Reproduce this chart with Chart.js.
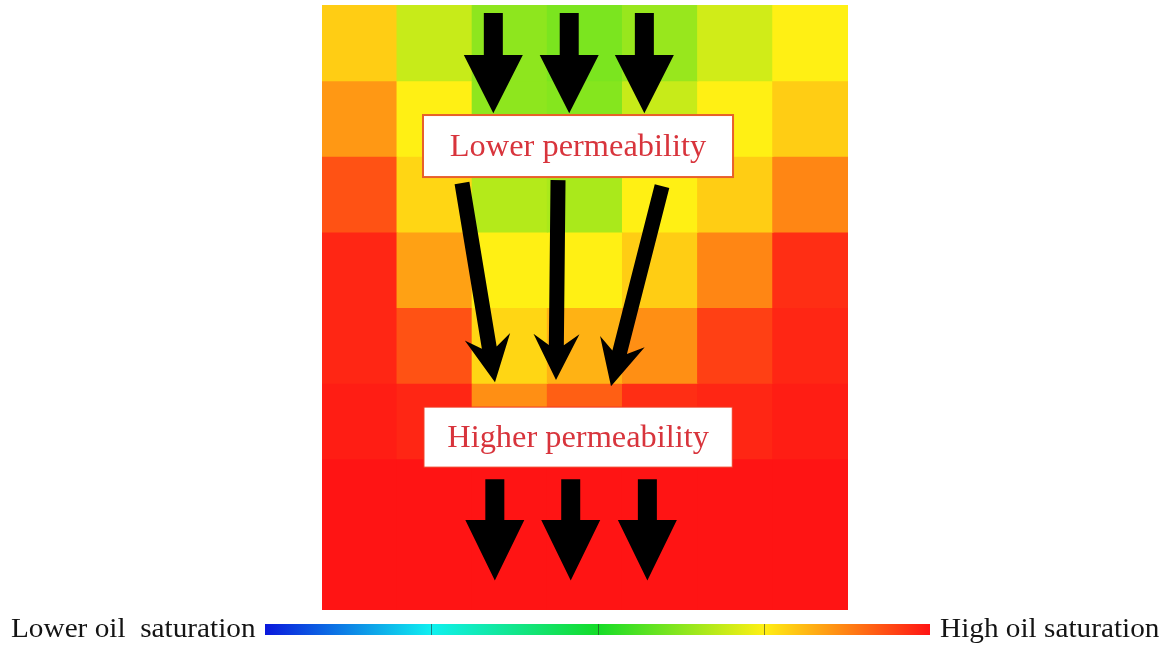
<!DOCTYPE html>
<html>
<head>
<meta charset="utf-8">
<title>Oil saturation and permeability</title>
<script src="https://cdn.jsdelivr.net/npm/chart.js@4/dist/chart.umd.min.js"></script>
<style>
  html, body { margin: 0; padding: 0; background: #ffffff; overflow: hidden; }
  #wrap { width: 1169px; height: 648px; position: relative; }
</style>
</head>
<body>
<div id="wrap"><canvas id="chart" width="1169" height="648"></canvas></div>
<script>
// Grid blocks, left to right
const columns = ['C1', 'C2', 'C3', 'C4', 'C5', 'C6', 'C7'];

// Oil saturation (0 = lowest, 1 = highest) of each block, one array per layer from the top
const layer1 = [0.79, 0.69, 0.63, 0.61, 0.64, 0.70, 0.75];
const layer2 = [0.85, 0.75, 0.63, 0.62, 0.69, 0.75, 0.79];
const layer3 = [0.93, 0.78, 0.67, 0.66, 0.75, 0.79, 0.87];
const layer4 = [0.98, 0.84, 0.75, 0.75, 0.79, 0.87, 0.97];
const layer5 = [0.98, 0.93, 0.78, 0.82, 0.86, 0.95, 0.98];
const layer6 = [0.99, 0.98, 0.86, 0.915, 0.97, 0.98, 0.99];
const layer7 = [1.00, 1.00, 1.00, 1.00, 1.00, 1.00, 1.00];
const layer8 = [1.00, 1.00, 1.00, 1.00, 1.00, 1.00, 1.00];
const layers = [layer1, layer2, layer3, layer4, layer5, layer6, layer7, layer8];

// Text
const lowZoneLabel = 'Lower permeability';
const highZoneLabel = 'Higher permeability';
const scaleLowLabel = 'Lower oil  saturation';
const scaleHighLabel = 'High oil saturation';

// Colour scale: blue -> cyan -> green -> yellow -> red
const colorStops = [0, 0.25, 0.5, 0.75, 1];
const stopColors = [[10, 24, 220], [16, 240, 240], [20, 220, 40], [255, 240, 20], [255, 20, 20]];

function saturationColor(v) {
  const t = Math.max(0, Math.min(1, v));
  let i = 0;
  while (i < colorStops.length - 2 && t > colorStops[i + 1]) i++;
  const f = (t - colorStops[i]) / (colorStops[i + 1] - colorStops[i]);
  const a = stopColors[i], b = stopColors[i + 1];
  const c = a.map((x, k) => Math.round(x + (b[k] - x) * f));
  return 'rgb(' + c.join(',') + ')';
}

// Flow arrows and zone boxes, placed in grid units (column centre index, layer depth from top)
const thickArrowsTop = { cols: [1.78, 2.79, 3.79], top: 0.106, headBase: 0.661, tip: 1.43 };
const thickArrowsBottom = { cols: [1.80, 2.81, 3.83], top: 6.27, headBase: 6.81, tip: 7.61 };
const slantArrows = [
  { from: [1.363, 2.354], to: [1.802, 4.987] },
  { from: [2.641, 2.315], to: [2.614, 4.960] },
  { from: [4.025, 2.394], to: [3.346, 5.040] }
];
const zoneBoxes = [
  { text: lowZoneLabel, c0: 0.844, c1: 4.97, r0: 1.455, r1: 2.275, border: '#e8602a', borderW: 2 },
  { text: highZoneLabel, c0: 0.857, c1: 4.96, r0: 5.317, r1: 6.111, border: '#f03a22', borderW: 1 }
];

const SERIF = '"Liberation Serif", "Times New Roman", "DejaVu Serif", serif';
const STRETCH = 1.045;

function stretchedText(ctx, text, x, y, align) {
  ctx.save();
  const w = ctx.measureText(text).width * STRETCH;
  let left = x;
  if (align === 'center') left = x - w / 2;
  else if (align === 'right') left = x - w;
  ctx.translate(left, y);
  ctx.scale(STRETCH, 1);
  ctx.textAlign = 'left';
  ctx.fillText(text, 0, 0);
  ctx.restore();
}

function blockArrow(ctx, cx, yTop, yBase, yTip, shaftW, headW) {
  ctx.beginPath();
  ctx.moveTo(cx - shaftW / 2, yTop);
  ctx.lineTo(cx + shaftW / 2, yTop);
  ctx.lineTo(cx + shaftW / 2, yBase);
  ctx.lineTo(cx + headW / 2, yBase);
  ctx.lineTo(cx, yTip);
  ctx.lineTo(cx - headW / 2, yBase);
  ctx.lineTo(cx - shaftW / 2, yBase);
  ctx.closePath();
  ctx.fill();
}

function barbedArrow(ctx, x0, y0, x1, y1, shaftW, headLen, headW, notch) {
  const dx = x1 - x0, dy = y1 - y0;
  const len = Math.hypot(dx, dy);
  const ux = dx / len, uy = dy / len;
  const nx = -uy, ny = ux;
  const jx = x1 - ux * (headLen - notch), jy = y1 - uy * (headLen - notch);
  const bx = x1 - ux * headLen, by = y1 - uy * headLen;
  ctx.beginPath();
  ctx.moveTo(x0 + nx * shaftW / 2, y0 + ny * shaftW / 2);
  ctx.lineTo(jx + nx * shaftW / 2, jy + ny * shaftW / 2);
  ctx.lineTo(bx + nx * headW / 2, by + ny * headW / 2);
  ctx.lineTo(x1, y1);
  ctx.lineTo(bx - nx * headW / 2, by - ny * headW / 2);
  ctx.lineTo(jx - nx * shaftW / 2, jy - ny * shaftW / 2);
  ctx.lineTo(x0 - nx * shaftW / 2, y0 - ny * shaftW / 2);
  ctx.closePath();
  ctx.fill();
}

const flowOverlay = {
  id: 'flowOverlay',
  afterDatasetsDraw(chart) {
    const ctx = chart.ctx;
    const xs = chart.scales.x, ys = chart.scales.y;
    const px = c => xs.getPixelForValue(c);
    const py = r => ys.getPixelForValue(r);
    ctx.save();
    ctx.fillStyle = '#000000';
    [thickArrowsTop, thickArrowsBottom].forEach(g => {
      g.cols.forEach(c => blockArrow(ctx, px(c), py(g.top), py(g.headBase), py(g.tip), 19, 59));
    });
    slantArrows.forEach(a => {
      barbedArrow(ctx, px(a.from[0]), py(a.from[1]), px(a.to[0]), py(a.to[1]), 15, 46, 46, 11);
    });
    zoneBoxes.forEach(b => {
      const x0 = px(b.c0), x1 = px(b.c1), y0 = py(b.r0), y1 = py(b.r1);
      ctx.fillStyle = '#ffffff';
      ctx.fillRect(x0, y0, x1 - x0, y1 - y0);
      ctx.strokeStyle = b.border;
      ctx.lineWidth = b.borderW;
      ctx.strokeRect(x0, y0, x1 - x0, y1 - y0);
      ctx.fillStyle = '#d8343c';
      ctx.font = '31px ' + SERIF;
      ctx.textBaseline = 'alphabetic';
      stretchedText(ctx, b.text, (x0 + x1) / 2, (y0 + y1) / 2 + 10, 'center');
    });
    ctx.restore();
  },
  afterDraw(chart) {
    const ctx = chart.ctx;
    const barX0 = 265, barX1 = 930, barY = 624, barH = 11;
    ctx.save();
    const grad = ctx.createLinearGradient(barX0, 0, barX1, 0);
    colorStops.forEach((s, i) => grad.addColorStop(s, saturationColor(s)));
    ctx.fillStyle = grad;
    ctx.fillRect(barX0, barY, barX1 - barX0, barH);
    ctx.strokeStyle = 'rgba(40,40,40,0.55)';
    ctx.lineWidth = 1;
    [0.25, 0.5, 0.75].forEach(s => {
      const x = Math.round(barX0 + (barX1 - barX0) * s) + 0.5;
      ctx.beginPath();
      ctx.moveTo(x, barY);
      ctx.lineTo(x, barY + barH);
      ctx.stroke();
    });
    ctx.fillStyle = '#141414';
    ctx.font = '28px ' + SERIF;
    ctx.textBaseline = 'alphabetic';
    stretchedText(ctx, scaleLowLabel, 11, 637, 'left');
    stretchedText(ctx, scaleHighLabel, 940, 637, 'left');
    ctx.restore();
  }
};

const datasets = layers.map((vals, r) => ({
  label: 'Layer ' + (r + 1),
  data: vals.map(() => 1),
  backgroundColor: vals.map(saturationColor),
  borderWidth: 0,
  barPercentage: 1,
  categoryPercentage: 1,
  inflateAmount: 0.6
}));

new Chart(document.getElementById('chart'), {
  type: 'bar',
  data: { labels: columns, datasets },
  options: {
    responsive: false,
    animation: false,
    devicePixelRatio: 1,
    layout: { padding: { left: 322, right: 321, top: 5, bottom: 38 } },
    scales: {
      x: { stacked: true, display: false, offset: true, grid: { display: false } },
      y: { stacked: true, display: false, min: 0, max: 8, reverse: true, grid: { display: false } }
    },
    plugins: { legend: { display: false }, tooltip: { enabled: false } }
  },
  plugins: [flowOverlay]
});
</script>
</body>
</html>
